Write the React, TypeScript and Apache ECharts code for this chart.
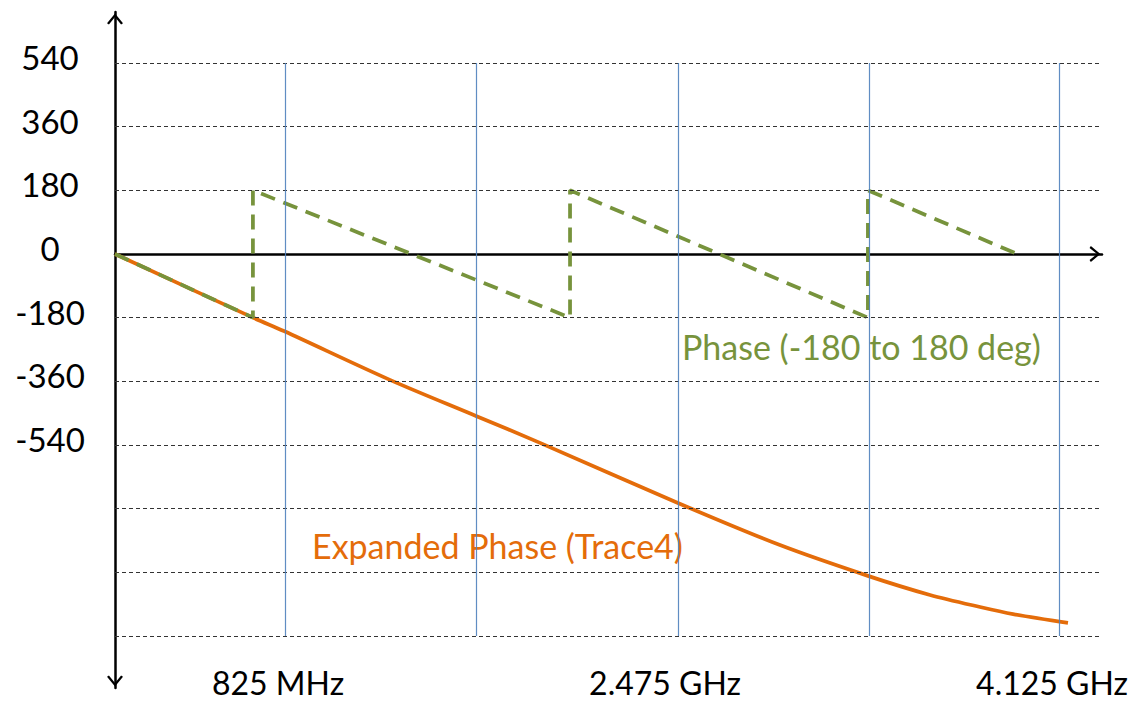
import React, { useEffect, useRef } from 'react';
import * as echarts from 'echarts';

// Axis ranges (MHz / degrees)
const freqMin = 100;
const freqMax = 4308;
const phaseMin = -1227;
const phaseMax = 684;

// Tick labels
const xTickValues = [825, 2475, 4125];
const xTickLabels = ['825 MHz', '2.475 GHz', '4.125 GHz'];
const yTickValues = [540, 360, 180, 0, -180, -360, -540];

// Grid lines
const yGridValues = [540, 360, 180, -180, -360, -540, -720, -900, -1080];
const xGridValues = [825, 1640, 2500, 3315, 4125];
const gridPhaseTop = 540;
const gridPhaseBottom = -1080;

// Wrapped phase (-180 to 180 deg)
const wrappedFreq = [100, 688, 688, 2040, 2040, 3310, 3310, 3946];
const wrappedPhase = [0, -180, 180, -180, 180, -180, 180, 0];

// Expanded phase (Trace4)
const expandedFreq = [100, 688, 820, 1272, 1639, 1912, 2500, 2935, 3310, 3575, 3788, 3929, 4163];
const expandedPhase = [0, -180, -218, -356, -458, -534, -704, -823, -910, -964, -998, -1018, -1043];

const FONT = 'Lato, "Open Sans", sans-serif';
const ORANGE = '#E46C0A';
const GREEN = '#77933C';
const BLUE = '#4F81BD';
const CHEVRON = 'path://M10,0 L20,12 L17.6,13.6 L10,4.2 L2.4,13.6 L0,12 Z';

export default function App() {
  const ref = useRef<HTMLDivElement>(null);

  useEffect(() => {
    if (!ref.current) return;
    const chart = echarts.init(ref.current, undefined, { renderer: 'svg' });

    const hLines = yGridValues.map((v) => [
      { coord: [freqMin, v] },
      { coord: [freqMax, v] },
    ]);
    const vLines = xGridValues.map((f) => [
      { coord: [f, gridPhaseTop], lineStyle: { color: BLUE, width: 1.2, type: 'solid', opacity: 0.9 } },
      { coord: [f, gridPhaseBottom] },
    ]);

    chart.setOption({
      animation: false,
      backgroundColor: '#ffffff',
      grid: { left: 115, right: 36, top: 12, bottom: 14 },
      xAxis: [
        {
          type: 'value',
          min: freqMin,
          max: freqMax,
          axisLine: {
            show: true,
            onZero: true,
            lineStyle: { color: '#000', width: 2.5 },
            symbol: ['none', CHEVRON],
            symbolSize: [16, 14],
            symbolOffset: [0, -7],
          },
          axisTick: { show: false },
          axisLabel: { show: false },
          splitLine: { show: false },
        },
        {
          type: 'value',
          min: freqMin,
          max: freqMax,
          position: 'bottom',
          axisLine: { show: false },
          axisTick: { show: false },
          splitLine: { show: false },
          axisLabel: {
            show: true,
            customValues: xTickValues,
            formatter: (v: number) => {
              const i = xTickValues.indexOf(v);
              return i >= 0 ? xTickLabels[i] : '';
            },
            fontFamily: FONT,
            fontSize: 32,
            color: '#000',
            verticalAlign: 'middle',
            margin: -6,
            padding: [0, 14, 0, 0],
          },
        },
      ],
      yAxis: {
        type: 'value',
        min: phaseMin,
        max: phaseMax,
        axisLine: {
          show: true,
          onZero: false,
          lineStyle: { color: '#000', width: 2.5 },
          symbol: [CHEVRON, CHEVRON],
          symbolSize: [16, 14],
          symbolOffset: [7, -7],
        },
        axisTick: { show: false },
        splitLine: { show: false },
        axisLabel: {
          show: true,
          customValues: yTickValues,
          fontFamily: FONT,
          fontSize: 33,
          color: '#000',
          align: 'center',
          verticalAlign: 'bottom',
          lineHeight: 12,
          margin: 65,
        },
      },
      series: [
        {
          type: 'line',
          name: 'grid',
          data: [],
          z: 1,
          silent: true,
          markLine: {
            silent: true,
            symbol: ['none', 'none'],
            label: { show: false },
            lineStyle: { color: '#333333', width: 1, type: [4, 3] },
            emphasis: { disabled: true },
            data: [...hLines, ...vLines],
          },
        },
        {
          type: 'line',
          name: 'Expanded Phase (Trace4)',
          data: expandedFreq.map((f, i) => [f, expandedPhase[i]]),
          showSymbol: false,
          symbol: 'none',
          smooth: 0.3,
          z: 3,
          lineStyle: { color: ORANGE, width: 3.75 },
        },
        {
          type: 'line',
          name: 'Phase (-180 to 180 deg)',
          data: wrappedFreq.map((f, i) => [f, wrappedPhase[i]]),
          showSymbol: false,
          symbol: 'none',
          z: 4,
          lineStyle: { color: GREEN, width: 3.75, type: [15, 9] },
        },
      ],
      graphic: [
        {
          type: 'text',
          x: 682,
          y: 346,
          style: {
            text: 'Phase (-180 to 180 deg)',
            fill: GREEN,
            font: `34px ${FONT}`,
            align: 'left',
            verticalAlign: 'middle',
          },
        },
        {
          type: 'text',
          x: 312,
          y: 545,
          style: {
            text: 'Expanded Phase (Trace4)',
            fill: ORANGE,
            font: `34px ${FONT}`,
            align: 'left',
            verticalAlign: 'middle',
          },
        },
      ],
    });

    return () => chart.dispose();
  }, []);

  return (
    <div
      ref={ref}
      style={{ position: 'absolute', left: 0, top: 0, width: 1138, height: 702, background: '#fff' }}
    />
  );
}
